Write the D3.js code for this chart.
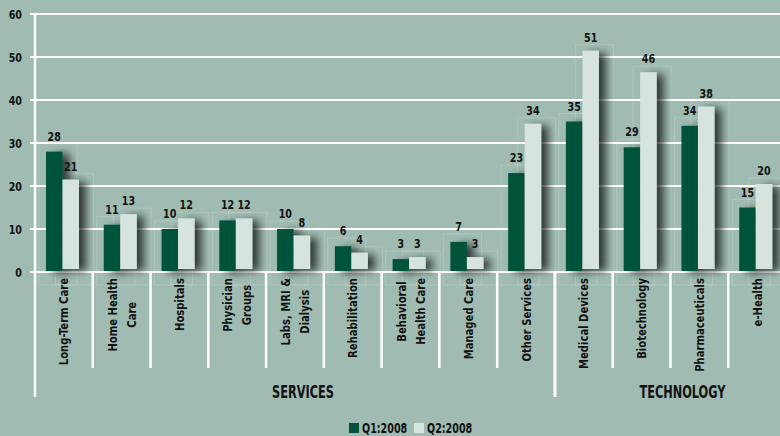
<!DOCTYPE html>
<html>
<head>
<meta charset="utf-8">
<script src="https://cdn.jsdelivr.net/npm/d3@7"></script>
<style>
  body { margin: 0; background: #a0bcb2; }
  svg { display: block; }
  text { font-family: 'DejaVu Sans Condensed', 'Liberation Sans Narrow', sans-serif; font-weight: bold; fill: #111; }
</style>
</head>
<body>
<div id="chart"></div>
<script>
// chart data
var categories = [
  ["Long-Term Care"], ["Home Health", "Care"], ["Hospitals"], ["Physician", "Groups"],
  ["Labs, MRI &", "Dialysis"], ["Rehabilitation"], ["Behavioral", "Health Care"], ["Managed Care"],
  ["Other Services"], ["Medical Devices"], ["Biotechnology"], ["Pharmaceuticals"], ["e-Health"]
];
var q1 = [28, 11, 10, 12, 10, 6, 3, 7, 23, 35, 29, 34, 15];
var q2 = [21, 13, 12, 12, 8, 4, 3, 3, 34, 51, 46, 38, 20];
var seriesNames = ["Q1:2008", "Q2:2008"];
var groups = [
  { name: "SERVICES", first: 0, last: 8 },
  { name: "TECHNOLOGY", first: 9, last: 12 }
];
var yTicks = [0, 10, 20, 30, 40, 50, 60];

var colors = { "Q1:2008": "#00533a", "Q2:2008": "#d6e3de" };

var width = 780, height = 436;

var svg = d3.select("#chart").append("svg")
  .attr("width", width)
  .attr("height", height);

svg.append("rect").attr("width", width).attr("height", height).attr("fill", "#a0bcb2");

// condensed text: the original uses a narrow face, squeeze the installed one
function squeezed(sel, px, py, rot, sx) {
  return sel.attr("transform", "translate(" + px + "," + py + ")" + (rot ? " rotate(" + rot + ")" : "") + " scale(" + sx + ",1)");
}

// shadow for the bars
var defs = svg.append("defs");
var f = defs.append("filter").attr("id", "shadow")
  .attr("x", "-20%").attr("y", "-20%").attr("width", "220%").attr("height", "140%");
f.append("feGaussianBlur").attr("in", "SourceAlpha").attr("stdDeviation", 4).attr("result", "blur");
f.append("feOffset").attr("in", "blur").attr("dx", 7).attr("dy", 2).attr("result", "off");
f.append("feComponentTransfer").attr("in", "off").attr("result", "sh")
  .append("feFuncA").attr("type", "linear").attr("slope", 0.7);
var merge = f.append("feMerge");
merge.append("feMergeNode").attr("in", "sh");
merge.append("feMergeNode").attr("in", "SourceGraphic");

// scales
var idx = d3.range(categories.length);
var x = d3.scaleBand().domain(idx).range([35, 786]);
var xs = d3.scaleBand().domain(seriesNames).range([11, 44]);
var y = d3.scaleLinear().domain([0, 60]).range([272, 14]);

// gridlines
svg.append("g").selectAll("line")
  .data(yTicks)
  .enter().append("line")
  .attr("x1", 30).attr("x2", width)
  .attr("y1", function (d) { return y(d); })
  .attr("y2", function (d) { return y(d); })
  .attr("stroke", "#fff").attr("stroke-width", 2);

// y tick labels
svg.append("g").selectAll("text")
  .data(yTicks)
  .enter().append("text")
  .each(function (d) { squeezed(d3.select(this), 22, y(d) + 4.5, 0, 0.82); })
  .attr("text-anchor", "end")
  .style("font-size", "13px")
  .text(function (d) { return d; });

var rows = [];
idx.forEach(function (i) {
  rows.push({ i: i, s: "Q1:2008", v: q1[i], lift: 1 });
  rows.push({ i: i, s: "Q2:2008", v: q2[i], lift: 3 });
});

// faint boxes behind bars (as in the original artwork)
svg.append("g").selectAll("rect")
  .data(rows)
  .enter().append("rect")
  .attr("x", function (d) { return x(d.i) + xs(d.s) - 7; })
  .attr("y", function (d) { return y(d.v) - 8; })
  .attr("width", 38)
  .attr("height", function (d) { return y(0) - y(d.v) + 21; })
  .attr("fill", "none")
  .attr("stroke", "rgba(255,255,255,0.16)")
  .attr("stroke-width", 1);

// bars
var bars = svg.append("g").attr("filter", "url(#shadow)");
bars.selectAll("rect")
  .data(rows)
  .enter().append("rect")
  .attr("x", function (d) { return x(d.i) + xs(d.s); })
  .attr("y", function (d) { return y(d.v) - d.lift + 1; })
  .attr("width", xs.bandwidth())
  .attr("height", function (d) { return y(0) - y(d.v) - 1; })
  .attr("fill", function (d) { return colors[d.s]; });

// value labels
svg.append("g").selectAll("text")
  .data(rows)
  .enter().append("text")
  .each(function (d) {
    squeezed(d3.select(this), x(d.i) + xs(d.s) + xs.bandwidth() / 2, y(d.v) - 11, 0, 0.82);
  })
  .attr("text-anchor", "middle")
  .style("font-size", "13px")
  .text(function (d) { return d.v; });

// axis lines
svg.append("line")
  .attr("x1", 35).attr("x2", 35).attr("y1", 14).attr("y2", 397)
  .attr("stroke", "#fff").attr("stroke-width", 2.5);

svg.append("g").selectAll("line")
  .data(idx.slice(1))
  .enter().append("line")
  .attr("x1", function (i) { return x(i); })
  .attr("x2", function (i) { return x(i); })
  .attr("y1", y(0))
  .attr("y2", function (i) { return i === groups[1].first ? 397 : 368; })
  .attr("stroke", "#fff")
  .attr("stroke-width", function (i) { return i === groups[1].first ? 3 : 2.5; });

// category labels (rotated, reading upward)
var catSx = 0.86;
var lab = svg.append("g").selectAll("g")
  .data(idx)
  .enter().append("g");

lab.each(function (i) {
  var g = d3.select(this);
  var lines = categories[i];
  var cx = x(i) + x.bandwidth() / 2;
  if (lines.length === 1) {
    var t = g.append("text").style("font-size", "13px").attr("text-anchor", "end").text(lines[0]);
    squeezed(t, cx + 4.5, 278, -90, catSx);
  } else {
    var t0 = g.append("text").style("font-size", "13px").attr("text-anchor", "middle").text(lines[0]);
    var t1 = g.append("text").style("font-size", "13px").attr("text-anchor", "middle").text(lines[1]);
    var w = Math.max(t0.node().getComputedTextLength(), t1.node().getComputedTextLength()) * catSx;
    var mid = 278 + w / 2;
    squeezed(t0, cx - 5, mid, -90, catSx);
    squeezed(t1, cx + 14, mid, -90, catSx);
  }
});

// group labels
svg.append("g").selectAll("text")
  .data(groups)
  .enter().append("text")
  .each(function (g, k) {
    var c = (x(g.first) + x(g.last) + x.bandwidth()) / 2;
    squeezed(d3.select(this), c + (k === 0 ? 8 : 12), 398, 0, 0.7);
  })
  .attr("text-anchor", "middle")
  .style("font-size", "18px")
  .text(function (g) { return g.name; });

// legend
var legend = svg.append("g").attr("transform", "translate(349,423)");
var li = legend.selectAll("g")
  .data(seriesNames)
  .enter().append("g")
  .attr("transform", function (d, k) { return "translate(" + (k * 65) + ",0)"; });
li.append("rect").attr("width", 10).attr("height", 10)
  .attr("fill", function (d) { return colors[d]; });
li.append("text")
  .each(function () { squeezed(d3.select(this), 13, 10, 0, 0.76); })
  .style("font-size", "14px")
  .text(function (d) { return d; });
</script>
</body>
</html>
